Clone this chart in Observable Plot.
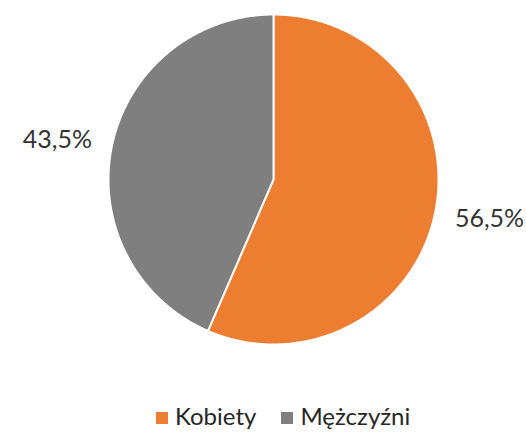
<!DOCTYPE html>
<html>
<head>
<meta charset="utf-8">
<script src="https://cdn.jsdelivr.net/npm/d3@7"></script>
<script src="https://cdn.jsdelivr.net/npm/@observablehq/plot@0.6"></script>
<style>
  html, body { margin: 0; padding: 0; background: #fff; }
  body { width: 526px; height: 433px; overflow: hidden; font-family: Lato, "Noto Sans", sans-serif; }
  #legend { display: flex; justify-content: flex-start; align-items: center; font-size: 24px; line-height: 28px; color: #262626; margin-top: 17px; padding-left: 156px; }
  .item { display: flex; align-items: center; }
  .sw { width: 12px; height: 12px; margin-right: 7px; margin-top: 4px; }
</style>
</head>
<body>
<div id="chart"></div>
<div id="legend"></div>
<script>
const categories = ["Kobiety", "Mężczyźni"];
const values = [56.5, 43.5];
const labels = ["56,5%", "43,5%"];
const colors = ["#ED7D31", "#7F7F7F"];

const W = 526, H = 385, cx = 273, cy = 179, R = 165;

const pie = d3.pie().sort(null).value(d => d.value);
const arcs = pie(categories.map((c, i) => ({category: c, value: values[i], label: labels[i]})));

// polygon points for each slice (angle 0 at top, clockwise)
const pts = [];
for (const a of arcs) {
  const n = Math.max(2, Math.ceil((a.endAngle - a.startAngle) / 0.01));
  pts.push({cat: a.data.category, x: 0, y: 0});
  for (let k = 0; k <= n; k++) {
    const t = a.startAngle + (a.endAngle - a.startAngle) * k / n;
    pts.push({cat: a.data.category, x: Math.sin(t), y: Math.cos(t)});
  }
}
const lr = 1.337;
const labelData = arcs.map(a => {
  const m = (a.startAngle + a.endAngle) / 2;
  return {x: lr * Math.sin(m), y: lr * Math.cos(m) * 0.88, label: a.data.label};
});

const chart = Plot.plot({
  width: W, height: H,
  margin: 0,
  x: {domain: [-cx / R, (W - cx) / R], axis: null},
  y: {domain: [-(H - cy) / R, cy / R], axis: null},
  color: {domain: categories, range: colors},
  marks: [
    Plot.line(pts, {x: "x", y: "y", z: "cat", fill: "cat", stroke: "white", strokeWidth: 2, curve: "linear-closed", strokeLinejoin: "round"}),
    Plot.text(labelData, {x: "x", y: "y", text: "label", fontSize: 25, fill: "#333333", textAnchor: "middle"})
  ],
  style: {fontFamily: "Lato, 'Noto Sans', sans-serif", background: "white"}
});
document.getElementById("chart").appendChild(chart);

const leg = document.getElementById("legend");
categories.forEach((c, i) => {
  const it = document.createElement("div");
  it.className = "item";
  if (i > 0) it.style.marginLeft = "25px";
  const sw = document.createElement("div");
  sw.className = "sw";
  sw.style.background = colors[i];
  const tx = document.createElement("span");
  tx.textContent = c;
  it.appendChild(sw); it.appendChild(tx);
  leg.appendChild(it);
});
</script>
</body>
</html>
